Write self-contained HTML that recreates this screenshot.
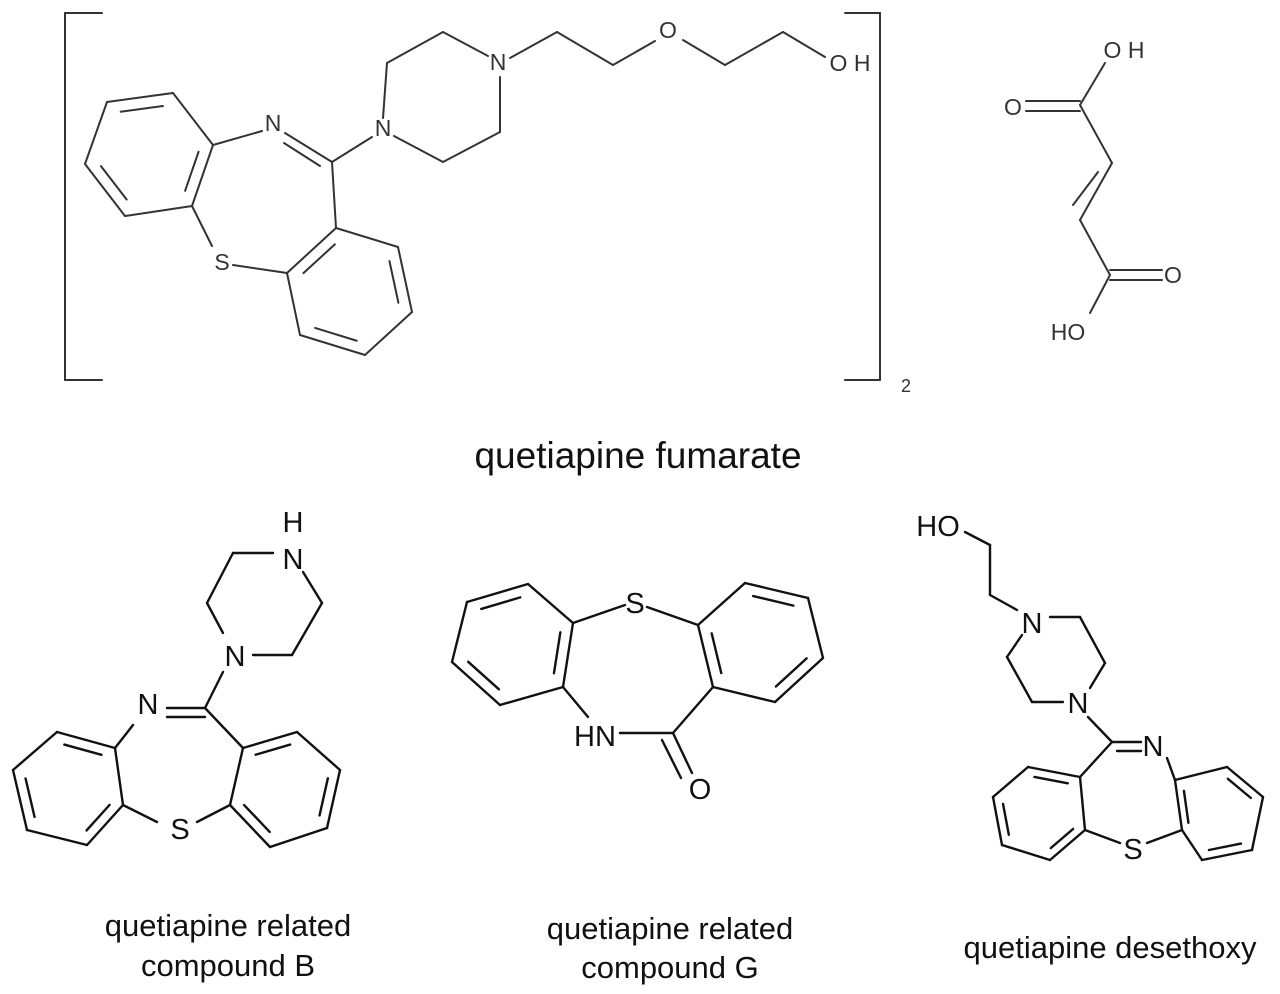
<!DOCTYPE html>
<html><head><meta charset="utf-8"><style>
html,body{margin:0;padding:0;background:#fff;width:1280px;height:994px;overflow:hidden}
svg{position:absolute;left:0;top:0}
text{font-family:"Liberation Sans",sans-serif}
</style></head><body>
<svg id="s" width="1280" height="994" viewBox="0 0 1280 994">
<g id="top" stroke="#333" stroke-width="2" fill="none" stroke-linecap="round"></g>
<g id="bot" stroke="#111" stroke-width="2.4" fill="none" stroke-linecap="round"></g>
<g fill="#333" font-size="23" text-anchor="middle">
<text x="273" y="131">N</text>
<text x="383" y="136">N</text>
<text x="498" y="70">N</text>
<text x="222" y="270">S</text>
<text x="668" y="38">O</text>
<text x="850" y="71">O H</text>
<text x="1124" y="58">O H</text>
<text x="1013" y="115">O</text>
<text x="1173" y="283">O</text>
<text x="1068" y="340">HO</text>
<text x="906" y="392" font-size="18">2</text>
</g>
<g fill="#111" font-size="29" text-anchor="middle">
<text x="293" y="532">H</text>
<text x="293" y="569">N</text>
<text x="235" y="666">N</text>
<text x="148" y="714">N</text>
<text x="180" y="839">S</text>
<text x="635" y="613">S</text>
<text x="595" y="746">HN</text>
<text x="700" y="799">O</text>
<text x="938" y="536">HO</text>
<text x="1032" y="633">N</text>
<text x="1078" y="713">N</text>
<text x="1153" y="756">N</text>
<text x="1133" y="859">S</text>
</g>
<g fill="#111" font-size="37" text-anchor="middle">
<text x="638" y="468">quetiapine fumarate</text>
</g>
<g fill="#111" font-size="31" text-anchor="middle">
<text x="228" y="936">quetiapine related</text>
<text x="228" y="976">compound B</text>
<text x="670" y="939">quetiapine related</text>
<text x="670" y="978">compound G</text>
<text x="1110" y="958">quetiapine desethoxy</text>
</g>
</svg>
<script>
function L(g,a){var s=document.getElementById(g);for(var i=0;i+3<a.length;i+=2){var l=document.createElementNS("http://www.w3.org/2000/svg","line");l.setAttribute("x1",a[i]);l.setAttribute("y1",a[i+1]);l.setAttribute("x2",a[i+2]);l.setAttribute("y2",a[i+3]);s.appendChild(l);}}
function ring(g,p,d){var cx=0,cy=0;p.forEach(function(q){cx+=q[0];cy+=q[1]});cx/=6;cy/=6;
for(var i=0;i<6;i++){var a=p[i],b=p[(i+1)%6];L(g,[a[0],a[1],b[0],b[1]]);}
d.forEach(function(i){var a=p[i],b=p[(i+1)%6];var f=0.2;
var ax=a[0]+(cx-a[0])*f,ay=a[1]+(cy-a[1])*f,bx=b[0]+(cx-b[0])*f,by=b[1]+(cy-b[1])*f;
var t=0.1;L(g,[ax+(bx-ax)*t,ay+(by-ay)*t,bx+(ax-bx)*t,by+(ay-by)*t]);});}
ring("top",[[107,102],[173,93],[213,145],[192,206],[125,216],[85,164]],[0,2,4]);
ring("top",[[336,228],[398,247],[412,312],[365,355],[300,335],[287,273]],[1,3,5]);
L("top",[213,145,262,131]);L("top",[285,133,332,162]);L("top",[284,143,320,166]);
L("top",[332,162,372,137]);L("top",[332,162,336,228]);
L("top",[192,206,212,246]);L("top",[233,265,287,273]);
L("top",[383,118,387,63,443,32,488,56]);L("top",[394,136,443,162,500,132,500,77]);
L("top",[510,58,557,32,613,65,655,41]);L("top",[683,40,725,65,783,32,825,57]);
L("top",[102,13,65,13,65,380,102,380]);L("top",[845,13,880,13,880,380,845,380]);
L("top",[1105,63,1080,105,1112,163,1080,220,1110,275,1090,313]);
L("top",[1026,101,1080,101]);L("top",[1026,111,1080,111]);
L("top",[1098,172,1073,205]);
L("top",[1110,270,1162,270]);L("top",[1110,280,1162,280]);
ring("bot",[[115,748],[57,732],[13,770],[27,830],[87,845],[123,805]],[0,2,4]);
ring("bot",[[243,748],[297,732],[340,770],[327,828],[270,847],[230,805]],[0,2,4]);
L("bot",[133,725,115,748]);L("bot",[167,708,205,708]);L("bot",[167,717,205,717]);
L("bot",[205,708,243,748]);L("bot",[205,708,223,672]);
L("bot",[123,805,157,822]);L("bot",[197,822,230,805]);
L("bot",[273,553,233,553,207,603,223,633]);L("bot",[253,655,292,655,322,603,303,572]);
ring("bot",[[467,602],[528,584],[573,623],[563,687],[500,705],[452,662]],[0,2,4]);
ring("bot",[[698,625],[745,583],[808,598],[823,658],[775,702],[713,687]],[1,3,5]);
L("bot",[573,623,625,605]);L("bot",[647,607,698,625]);
L("bot",[563,687,588,717]);L("bot",[620,733,673,733,713,687]);
L("bot",[673,733,692,773]);L("bot",[662,740,681,778]);
ring("bot",[[1080,777],[1028,767],[993,797],[1002,845],[1050,860],[1085,830]],[0,2,4]);
ring("bot",[[1182,830],[1175,780],[1227,767],[1263,797],[1252,850],[1202,860]],[0,2,4]);
L("bot",[1080,777,1112,742,1088,717]);L("bot",[1112,742,1141,742]);L("bot",[1117,751,1141,751]);
L("bot",[1167,758,1175,780]);
L("bot",[1085,830,1120,843]);L("bot",[1147,843,1182,830]);
L("bot",[965,532,990,545,990,595,1017,610]);
L("bot",[1050,617,1080,617,1105,663,1090,688]);L("bot",[1063,702,1032,702,1007,657,1022,635]);
</script>
</body></html>
